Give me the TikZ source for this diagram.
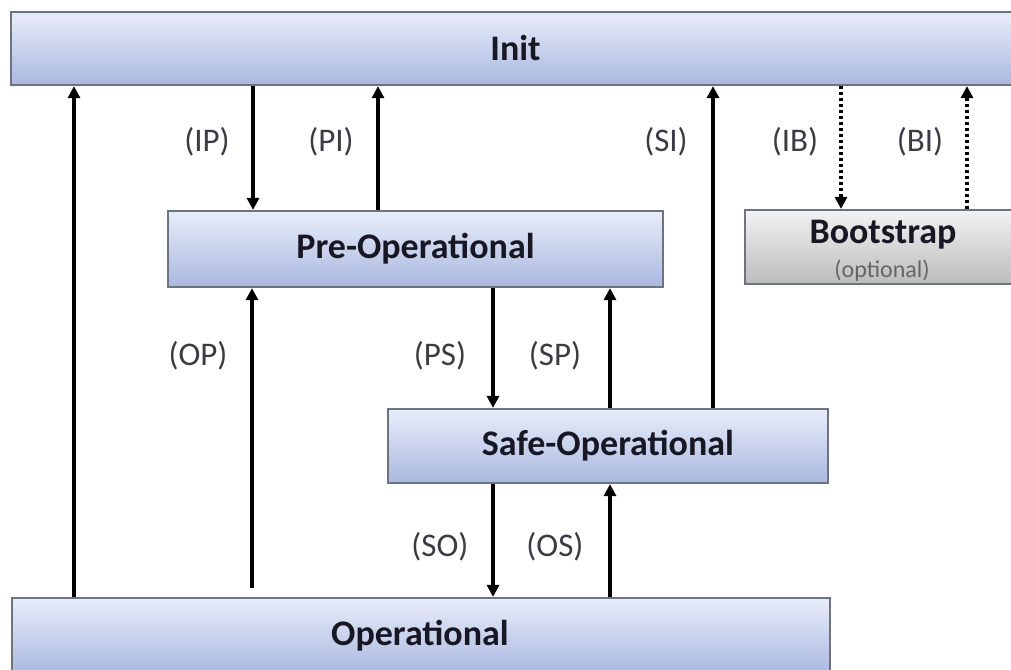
\documentclass[tikz,border=0pt]{standalone}
\usepackage{fontspec}
\setmainfont{Carlito}
\usetikzlibrary{arrows.meta}
\definecolor{boxtop}{RGB}{232,237,249}
\definecolor{boxbot}{RGB}{170,184,224}
\definecolor{graytop}{RGB}{242,242,242}
\definecolor{graybot}{RGB}{188,188,188}
\definecolor{boxedge}{RGB}{110,115,128}
\definecolor{txt}{RGB}{24,24,36}
\tikzset{
  statebox/.style={draw=boxedge, line width=2.2pt, top color=boxtop, bottom color=boxbot,
    inner sep=0pt, text=txt, font=\fontsize{36}{40}\selectfont\bfseries, anchor=center},
  graybox/.style={statebox, top color=graytop, bottom color=graybot},
  arr/.style={line width=3.4pt, draw=black, -{Triangle[length=12pt,width=12pt]}},
  dotarr/.style={arr, dash pattern=on 3pt off 3pt},
  lbl/.style={text=txt!85, font=\fontsize{33}{36}\selectfont, inner sep=0pt}
}
\begin{document}
\begin{tikzpicture}[x=1pt,y=-1pt]
\useasboundingbox[fill=white] (0,0) rectangle (1011,669);
% boxes
\node[statebox, minimum width=1009pt, minimum height=73pt] (init) at (515.5,48.5) {Init};
\node[statebox, minimum width=495pt, minimum height=76pt] (preop) at (415.5,249) {Pre-Operational};
\node[graybox, minimum width=276pt, minimum height=74pt] (boot) at (883,247) {};
\node[text=txt, font=\fontsize{36}{40}\selectfont\bfseries, inner sep=0pt] (boottxt) at (883,235) {Bootstrap};
\node[text=black!60, font=\fontsize{24}{26}\selectfont, inner sep=0pt] (bootopt) at (882,271) {(optional)};
\node[statebox, minimum width=440pt, minimum height=74pt] (safeop) at (608,446) {Safe-Operational};
\node[statebox, minimum width=818pt, minimum height=76pt] (op) at (421,636) {};
\node[text=txt, font=\fontsize{36}{40}\selectfont\bfseries, inner sep=0pt] (optxt) at (420,636) {Operational};
% x positions
\coordinate (xOI) at (74,0);
\coordinate (xIP) at (253,0);
\coordinate (xPI) at (378,0);
\coordinate (xSI) at (713,0);
\coordinate (xIB) at (841,0);
\coordinate (xBI) at (967,0);
\coordinate (xOP) at (252,0);
\coordinate (xPS) at (493,0);
\coordinate (xSP) at (610,0);
\coordinate (opgap) at (252,588);
% connectors
\draw[arr] (op.north -| xOI) -- (init.south -| xOI);
\draw[arr] (init.south -| xIP) -- (preop.north -| xIP);
\draw[arr] (preop.north -| xPI) -- (init.south -| xPI);
\draw[arr] (safeop.north -| xSI) -- (init.south -| xSI);
\draw[dotarr] (init.south -| xIB) -- (boot.north -| xIB);
\draw[dotarr] (boot.north -| xBI) -- (init.south -| xBI);
\draw[arr] (opgap) -- (preop.south -| xOP);
\draw[arr] (preop.south -| xPS) -- (safeop.north -| xPS);
\draw[arr] (safeop.north -| xSP) -- (preop.south -| xSP);
\draw[arr] (safeop.south -| xPS) -- (op.north -| xPS);
\draw[arr] (op.north -| xSP) -- (safeop.south -| xSP);
% labels
\node[lbl] (lIP) at (207,142) {(IP)};
\node[lbl] (lPI) at (331,142) {(PI)};
\node[lbl] (lSI) at (666,142) {(SI)};
\node[lbl] (lIB) at (795,142) {(IB)};
\node[lbl] (lBI) at (920,142) {(BI)};
\node[lbl] (lOP) at (198,356) {(OP)};
\node[lbl] (lPS) at (440,356) {(PS)};
\node[lbl] (lSP) at (555,356) {(SP)};
\node[lbl] (lSO) at (440,547) {(SO)};
\node[lbl] (lOS) at (555,547) {(OS)};
\end{tikzpicture}
\end{document}
